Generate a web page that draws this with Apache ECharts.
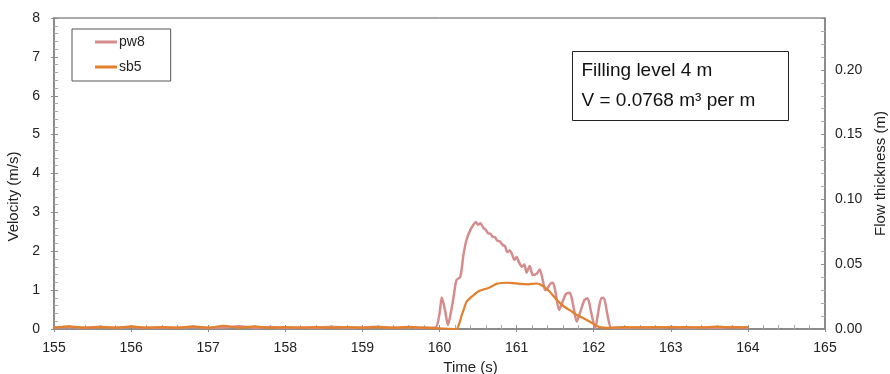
<!DOCTYPE html>
<html>
<head>
<meta charset="utf-8">
<script src="https://cdn.jsdelivr.net/npm/echarts@6/dist/echarts.min.js"></script>
<style>html,body{margin:0;padding:0;background:#fff}#c{width:890px;height:374px}</style>
</head>
<body>
<div id="c"></div>
<script>
// pw8 velocity (m/s)
var pw8Time = [155.0,155.2,155.4,155.6,155.8,156.0,156.2,156.4,156.6,156.8,157.0,157.2,157.4,157.6,157.8,158.0,158.2,158.4,158.6,158.8,159.0,159.2,159.4,159.6,159.8,159.95,
  160.00,160.03,160.07,160.11,160.15,160.18,160.22,160.27,160.31,160.35,160.40,160.44,160.47,160.50,160.53,160.57,160.60,160.63,160.66,160.69,160.72,160.75,160.78,160.82,160.85,160.88,160.91,160.94,160.97,161.00,161.03,161.07,161.10,161.13,161.17,161.21,161.26,161.30,161.34,161.37,161.40,161.44,161.47,161.50,161.55,161.58,161.64,161.69,161.73,161.78,161.82,161.88,161.92,161.97,162.02,162.06,162.10,162.13,162.18,162.23,
  162.4,162.6,162.8,163.0,163.2,163.4,163.6,163.8,164.0];
var pw8Vel = [0.03,0.05,0.03,0.06,0.03,0.05,0.03,0.04,0.03,0.05,0.03,0.04,0.07,0.03,0.05,0.03,0.04,0.03,0.06,0.03,0.04,0.06,0.03,0.05,0.03,0.04,
  0.40,0.81,0.50,0.10,0.45,0.79,1.26,1.34,1.90,2.29,2.55,2.68,2.75,2.68,2.72,2.60,2.55,2.46,2.45,2.37,2.36,2.27,2.26,2.16,2.13,1.98,2.02,1.93,1.78,1.85,1.72,1.60,1.66,1.45,1.62,1.39,1.42,1.53,1.25,1.00,1.05,1.17,1.19,1.00,0.49,0.62,0.90,0.93,0.65,0.19,0.40,0.75,0.79,0.40,0.02,0.45,0.80,0.80,0.35,0.03,
  0.03,0.04,0.03,0.05,0.03,0.04,0.03,0.05,0.03];

// sb5 flow thickness (m)
var sb5Time = [155.0,155.2,155.4,155.6,155.8,156.0,156.2,156.4,156.6,156.8,157.0,157.2,157.4,157.6,157.8,158.0,158.2,158.4,158.6,158.8,159.0,159.2,159.4,159.6,159.8,160.0,
  160.22,160.26,160.29,160.32,160.35,160.40,160.44,160.48,160.52,160.57,160.63,160.68,160.74,160.80,160.88,160.95,161.04,161.15,161.26,161.30,161.35,161.43,161.52,161.58,161.65,161.72,161.78,161.85,161.91,161.98,162.04,162.10,162.17,
  162.4,162.6,162.8,163.0,163.2,163.4,163.6,163.8,164.0];
var sb5Thick = [0.0010,0.0020,0.0010,0.0015,0.0010,0.0020,0.0010,0.0015,0.0010,0.0020,0.0010,0.0025,0.0010,0.0020,0.0010,0.0015,0.0010,0.0015,0.0010,0.0015,0.0010,0.0015,0.0010,0.0015,0.0010,0.0005,
  0.0000,0.0050,0.0110,0.0160,0.0210,0.0240,0.0260,0.0280,0.0295,0.0305,0.0315,0.0330,0.0348,0.0355,0.0357,0.0354,0.0348,0.0345,0.0351,0.0345,0.0327,0.0288,0.0225,0.0190,0.0160,0.0133,0.0108,0.0088,0.0069,0.0045,0.0024,0.0012,0.0008,
  0.0015,0.0012,0.0015,0.0012,0.0015,0.0012,0.0018,0.0012,0.0015];

var xTicks = [155,156,157,158,159,160,161,162,163,164,165];

function pairs(t, v){ var o=[]; for(var i=0;i<t.length;i++) o.push([t[i], v[i]]); return o; }

var FONT = 'Liberation Sans';
var chart = echarts.init(document.getElementById('c'));
var axisGrey = '#8c8c8c';
chart.setOption({
  animation: false,
  textStyle: {fontFamily: FONT},
  grid: {left: 54, right: 65, top: 18, bottom: 45, containLabel: false, outerBoundsMode: 'none',
    show: true, borderColor: '#555', borderWidth: 1},
  legend: {
    left: 72, top: 29, orient: 'vertical', itemGap: 11,
    padding: [6, 26, 7, 23],
    borderColor: '#555', borderWidth: 1, borderRadius: 0,
    icon: 'rect', itemWidth: 22, itemHeight: 3, itemTextGap: 0,
    textStyle: {fontFamily: FONT, fontSize: 14, color: '#222', padding: [0,0,0,-3]},
    data: ['pw8', 'sb5']
  },
  xAxis: [{
    type: 'value', min: xTicks[0], max: xTicks[xTicks.length-1], interval: 1,
    name: 'Time (s)', nameLocation: 'middle', nameGap: 27,
    nameTextStyle: {fontFamily: FONT, fontSize: 15, color: '#222', padding: [0,0,0,62]},
    axisLine: {lineStyle: {color: axisGrey, width: 2}},
    axisTick: {inside: true, length: 4, lineStyle: {color: axisGrey}},
    minorTick: {show: true, splitNumber: 5, length: 4, lineStyle: {color: '#aaa'}},
    axisLabel: {fontSize: 14, color: '#222', margin: 12},
    splitLine: {show: false}
  }, {
    type: 'value', min: xTicks[0], max: xTicks[xTicks.length-1], interval: 1, position: 'bottom',
    axisLine: {show: false}, axisLabel: {show: false},
    axisTick: {inside: false, length: 3, lineStyle: {color: axisGrey}},
    splitLine: {show: false}
  }],
  yAxis: [{
    type: 'value', min: 0, max: 8, interval: 1,
    name: 'Velocity (m/s)', nameLocation: 'middle', nameGap: 25, nameRotate: 90,
    nameTextStyle: {fontFamily: FONT, fontSize: 15, color: '#222', padding: [0,46,0,0]},
    axisLine: {show: true, lineStyle: {color: axisGrey, width: 2}},
    axisTick: {show: true, inside: true, length: 4, lineStyle: {color: axisGrey}},
    minorTick: {show: true, splitNumber: 5, length: 4, lineStyle: {color: '#aaa'}},
    axisLabel: {fontSize: 14, color: '#222', margin: 14},
    splitLine: {show: false}
  }, {
    type: 'value', min: 0, max: 0.24, interval: 0.05, position: 'right',
    name: 'Flow thickness (m)', nameLocation: 'middle', nameGap: 43, nameRotate: 90,
    nameTextStyle: {fontFamily: FONT, fontSize: 15, color: '#222'},
    axisLine: {show: true, lineStyle: {color: axisGrey, width: 2}},
    axisTick: {show: true, inside: true, length: 4, lineStyle: {color: axisGrey}},
    minorTick: {show: true, splitNumber: 5, length: 4, lineStyle: {color: '#aaa'}},
    axisLabel: {fontSize: 14, color: '#222', margin: 10, showMaxLabel: false,
      formatter: function(v){ return v > 0.21 ? '' : v.toFixed(2); }},
    splitLine: {show: false}
  }, {
    type: 'value', min: 0, max: 8, interval: 1, position: 'left',
    axisLine: {show: false}, axisLabel: {show: false},
    axisTick: {show: true, inside: false, length: 3, lineStyle: {color: axisGrey}},
    splitLine: {show: false}
  }],
  series: [{
    name: 'pw8', type: 'line', xAxisIndex: 0, yAxisIndex: 0,
    data: pairs(pw8Time, pw8Vel), showSymbol: false, symbol: 'none', smooth: 0.25,
    color: '#d48c8c', lineStyle: {color: '#d48c8c', width: 2.5}
  }, {
    name: 'sb5', type: 'line', xAxisIndex: 0, yAxisIndex: 1,
    data: pairs(sb5Time, sb5Thick), showSymbol: false, symbol: 'none', smooth: 0.2,
    color: '#e2802c', lineStyle: {color: '#e2802c', width: 2.2}
  }],
  graphic: [{
    type: 'group', left: 572, top: 51,
    children: [
      {type: 'rect', shape: {x: 0, y: 0, width: 216, height: 69}, style: {fill: '#fff', stroke: '#222', lineWidth: 1}},
      {type: 'text', x: 9, y: 19, style: {text: 'Filling level 4 m', font: '19px "Liberation Sans"', fill: '#111', verticalAlign: 'middle'}},
      {type: 'text', x: 9, y: 49, style: {text: 'V = 0.0768 m³ per m', font: '19px "Liberation Sans"', fill: '#111', verticalAlign: 'middle'}}
    ]
  }]
});
</script>
</body>
</html>
